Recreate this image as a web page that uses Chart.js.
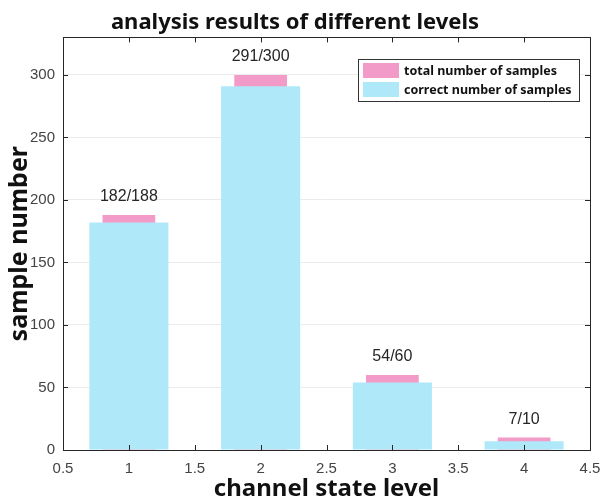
<!DOCTYPE html>
<html>
<head>
<meta charset="utf-8">
<script src="https://cdn.jsdelivr.net/npm/chart.js@4.4.0/dist/chart.umd.min.js"></script>
<style>
  body { margin: 0; background: #ffffff; }
  #wrap { width: 602px; height: 504px; }
</style>
</head>
<body>
<div id="wrap"><canvas id="chart" width="602" height="504"></canvas></div>
<script>
// channel state levels and sample counts
const levels = [1, 2, 3, 4];
const totalSamples = [188, 300, 60, 10];
const correctSamples = [182, 291, 54, 7];
const xTicks = [0.5, 1, 1.5, 2, 2.5, 3, 3.5, 4, 4.5];
const yTicks = [0, 50, 100, 150, 200, 250, 300];

const pinkColor = '#f29bc8';
const cyanColor = '#afe8f8';
const axisColor = '#262626';

const tickFont = { family: '"Liberation Sans", Arial, sans-serif', size: 15 };
const boldFamily = '"Noto Sans", "Open Sans", sans-serif';

// MATLAB style inward ticks on all four sides, plus the box
const boxTicks = {
    id: 'boxTicks',
    afterDatasetsDraw(chart) {
        const { ctx, chartArea: a, scales } = chart;
        ctx.save();
        ctx.strokeStyle = axisColor;
        ctx.lineWidth = 1;
        ctx.beginPath();
        xTicks.forEach(v => {
            const px = Math.round(scales.x.getPixelForValue(v)) + 0.5;
            ctx.moveTo(px, a.bottom); ctx.lineTo(px, a.bottom - 5);
            ctx.moveTo(px, a.top); ctx.lineTo(px, a.top + 5);
        });
        yTicks.forEach(v => {
            const py = Math.round(scales.y.getPixelForValue(v)) + 0.5;
            ctx.moveTo(a.left, py); ctx.lineTo(a.left + 5, py);
            ctx.moveTo(a.right, py); ctx.lineTo(a.right - 5, py);
        });
        ctx.stroke();
        ctx.strokeRect(Math.round(a.left) + 0.5, Math.round(a.top) + 0.5,
            Math.round(a.right - a.left), Math.round(a.bottom - a.top));
        ctx.restore();
    }
};

// "correct/total" text above each bar
const barLabels = {
    id: 'barLabels',
    afterDatasetsDraw(chart) {
        const { ctx, scales } = chart;
        ctx.save();
        ctx.font = '16px "Liberation Sans", Arial, sans-serif';
        ctx.fillStyle = '#262626';
        ctx.textAlign = 'center';
        ctx.textBaseline = 'middle';
        levels.forEach((lv, i) => {
            const px = scales.x.getPixelForValue(lv);
            const py = scales.y.getPixelForValue(totalSamples[i]) - 18;
            ctx.fillText(correctSamples[i] + '/' + totalSamples[i], px, py);
        });
        ctx.restore();
    }
};

// boxed legend inside the upper right of the plot
const boxLegend = {
    id: 'boxLegend',
    afterDraw(chart) {
        const { ctx } = chart;
        const items = [chart.data.datasets[0], chart.data.datasets[1]];
        const x0 = 358, y0 = 59, w = 221, h = 42;
        ctx.save();
        ctx.fillStyle = '#ffffff';
        ctx.fillRect(x0, y0, w, h);
        ctx.strokeStyle = '#333333';
        ctx.lineWidth = 1;
        ctx.strokeRect(x0 + 0.5, y0 + 0.5, w, h);
        ctx.font = 'bold 12.5px ' + boldFamily;
        ctx.textBaseline = 'middle';
        items.forEach((ds, i) => {
            const yy = y0 + 4 + i * 19;
            ctx.fillStyle = ds.backgroundColor;
            ctx.fillRect(x0 + 5, yy, 36, 15);
            ctx.fillStyle = '#111111';
            ctx.fillText(ds.label, x0 + 46, yy + 8);
        });
        ctx.restore();
    }
};

new Chart(document.getElementById('chart'), {
    type: 'bar',
    data: {
        datasets: [
            {
                label: 'total number of samples',
                data: levels.map((lv, i) => ({ x: lv, y: totalSamples[i] })),
                backgroundColor: pinkColor,
                categoryPercentage: 1,
                barPercentage: 0.8,
                grouped: false,
                order: 1
            },
            {
                label: 'correct number of samples',
                data: levels.map((lv, i) => ({ x: lv, y: correctSamples[i] })),
                backgroundColor: cyanColor,
                categoryPercentage: 1,
                barPercentage: 1.2,
                grouped: false,
                order: 0
            }
        ]
    },
    options: {
        responsive: false,
        animation: false,
        layout: { padding: { top: 0, right: 12, bottom: 0, left: 0 } },
        plugins: {
            legend: { display: false },
            tooltip: { enabled: false },
            title: {
                display: true,
                text: 'analysis results of different levels',
                color: '#111111',
                font: { family: boldFamily, size: 22, weight: 'bold' },
                padding: { top: 10, bottom: 1 }
            }
        },
        scales: {
            x: {
                type: 'linear',
                offset: false,
                min: 0.5,
                max: 4.5,
                afterBuildTicks: (scale) => { scale.ticks = xTicks.map(v => ({ value: v })); },
                afterFit: (scale) => {
                    scale.height = 54;
                    // edge labels may hang past the plot box, like in MATLAB
                    scale.paddingLeft = 0;
                    scale.paddingRight = 0;
                },
                grid: { display: false, drawTicks: false },
                border: { display: false },
                ticks: {
                    color: '#444444', font: tickFont, padding: 10, maxRotation: 0,
                    callback: (v) => String(v)
                },
                title: {
                    display: true,
                    text: 'channel state level',
                    color: '#111111',
                    font: { family: boldFamily, size: 24, weight: 'bold' },
                    padding: { top: 0, bottom: 0 }
                }
            },
            y: {
                min: 0,
                max: 330,
                afterBuildTicks: (scale) => { scale.ticks = yTicks.map(v => ({ value: v })); },
                afterFit: (scale) => { scale.width = 63; },
                grid: { color: '#ebebeb', drawTicks: false },
                border: { display: false },
                ticks: { color: '#444444', font: tickFont, padding: 8 },
                title: {
                    display: true,
                    text: 'sample number',
                    color: '#111111',
                    font: { family: boldFamily, size: 25, weight: 'bold' },
                    padding: { top: 5, bottom: 0 }
                }
            }
        }
    },
    plugins: [boxTicks, barLabels, boxLegend]
});
</script>
</body>
</html>
